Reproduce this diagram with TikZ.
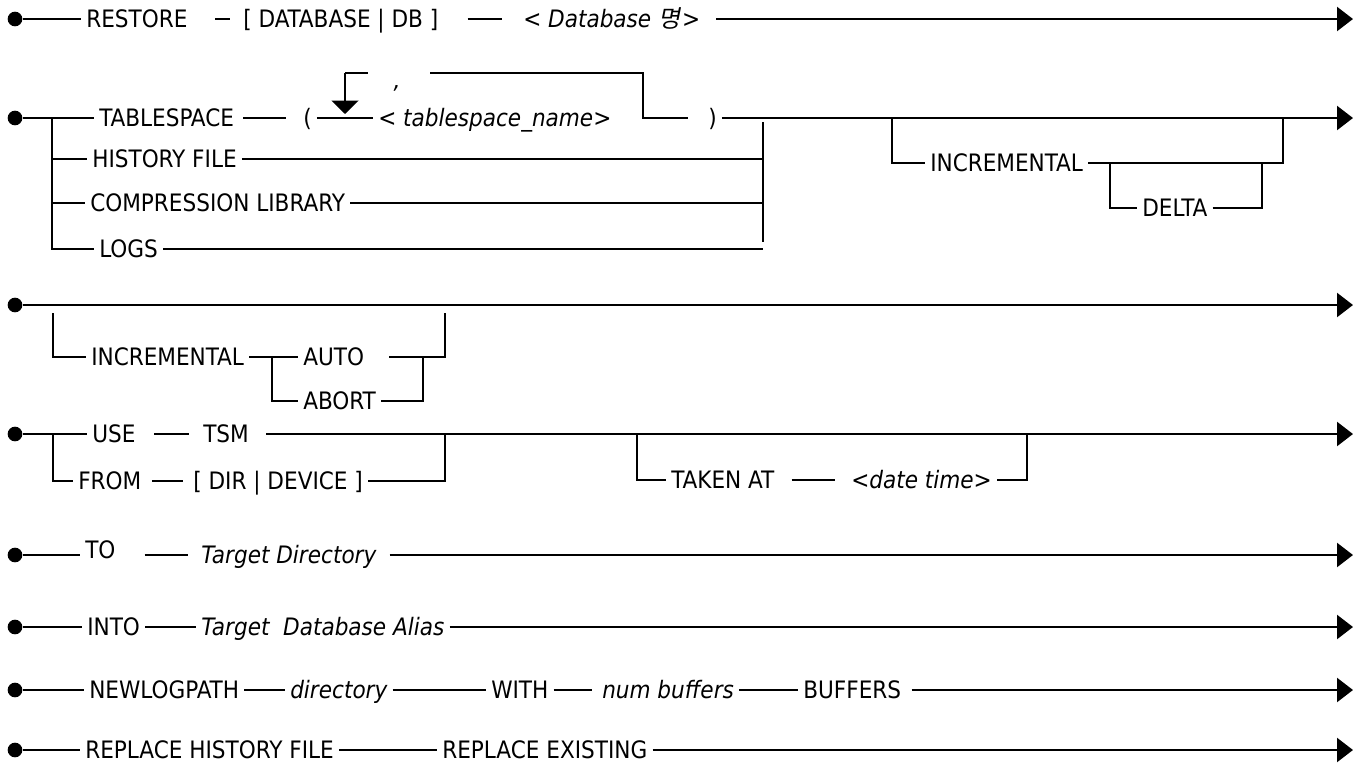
\documentclass[tikz,border=0pt]{standalone}
\usepackage{fontspec}
\setmainfont{DejaVu Sans Condensed}[ItalicFont={DejaVu Sans Condensed Oblique}]
\newfontfamily\krfont{Noto Sans CJK KR}[FakeSlant=0.2]
\usetikzlibrary{positioning, arrows.meta}

\begin{document}
\begin{tikzpicture}[
    x=0.75pt, y=-0.75pt,
    % -------------------------------------------------
    % Node styles
    % -------------------------------------------------
    startdot/.style={
        circle,
        fill=black,
        inner sep=0pt,
        minimum size=11pt
    },
    keyword/.style={
        rectangle,
        anchor=west,
        inner xsep=3.75pt,
        inner ysep=0pt,
        text height=13.1pt,
        text depth=0pt,
        font=\fontsize{18}{21}\selectfont
    },
    paramtext/.style={
        keyword,
        font=\fontsize{18}{21}\selectfont\itshape
    },
    sepmark/.style={
        inner sep=0pt,
        font=\fontsize{18}{21}\selectfont\itshape
    },
    % -------------------------------------------------
    % Connections
    % -------------------------------------------------
    rail/.style={
        line width=1.7pt,
        draw=black
    },
    railend/.style={
        rail,
        -{Triangle[length=12pt, width=18pt]}
    },
    looparrow/.style={
        rail,
        -{Triangle[length=10pt, width=20pt]}
    }
]

\useasboundingbox (0,0) rectangle (1365,769);

% =====================================================
% RESTORE DATABASE
% =====================================================

\node[startdot] (d1) at (15,19) {};
\node[keyword] (restore) at (81,19) {RESTORE};
\node[keyword] (dbkw) at (238,19) {[ DATABASE | DB ]};
\node[paramtext] (dbname) at (518,19) {< Database {\krfont 명}\kern1.5pt>};
\coordinate (e1) at (1353,19);

\draw[rail] (d1) -- (restore);
\draw[rail, shorten <=17pt, shorten >=6pt] (restore) -- (dbkw);
\draw[rail, shorten <=18pt, shorten >=12pt] (dbkw) -- (dbname);
\draw[railend, shorten <=8pt] (dbname) -- (e1);

% =====================================================
% TABLESPACE / HISTORY FILE / COMPRESSION LIBRARY / LOGS
% =====================================================

\node[startdot] (d2) at (15,118) {};
\coordinate (s2) at (52,118);
\coordinate (s2b) at (52,249);
\node[keyword] (tbs) at (94,118) {TABLESPACE};
\node[keyword] (lpar) at (298,118) {(};
\node[paramtext] (tsname) at (373,118) {< tablespace\_name>};
\node[keyword] (rpar) at (703,118) {)};
\coordinate (e2) at (1353,118);

\draw[rail] (d2) -- (tbs);
\draw[rail, shorten <=3pt, shorten >=9pt] (tbs) -- (lpar);
\draw[rail] (lpar) -- (tsname);
\draw[railend] (rpar) -- (e2);

% repeat loop
\coordinate (lpin) at (345,114);
\coordinate (lptl) at (345,73);
\coordinate (lptr) at (643,73);
\coordinate (lpout) at (643,118);
\node[sepmark] (sep) at (397,88) {,};

\draw[looparrow] (lptl) -- (lpin);
\draw[rail, shorten >=22pt] (lptl) -- (sep |- lptl);
\draw[rail, shorten <=25pt, shorten >=11pt] (sep |- lptl) -- (lptr) -- (lpout) -- (rpar);

% alternatives
\node[keyword] (hist) at (87,159) {HISTORY FILE};
\node[keyword] (comp) at (85,203) {COMPRESSION LIBRARY};
\node[keyword] (logs) at (94,249) {LOGS};
\coordinate (j2t) at (763,122);
\coordinate (j2b) at (763,242);

\draw[rail] (s2) -- (s2b) -- (logs);
\draw[rail] (s2 |- hist) -- (hist);
\draw[rail] (s2 |- comp) -- (comp);
\draw[rail] (j2t) -- (j2b);
\draw[rail] (hist) -- (hist -| j2t);
\draw[rail] (comp) -- (comp -| j2t);
\draw[rail] (logs) -- (logs -| j2t);

% INCREMENTAL [DELTA]
\coordinate (i2a) at (892,118);
\coordinate (i2b) at (1283,118);
\node[keyword] (incr) at (925,163) {INCREMENTAL};
\coordinate (dlt) at (1110,163);
\coordinate (dlr) at (1262,163);
\node[keyword] (delta) at (1137,208) {DELTA};

\draw[rail] (i2a) |- (incr);
\draw[rail] (incr) -| (i2b);
\draw[rail] (dlt) |- (delta);
\draw[rail] (delta) -| (dlr);

% =====================================================
% INCREMENTAL AUTO / ABORT
% =====================================================

\node[startdot] (d3) at (15,305) {};
\coordinate (e3) at (1353,305);
\coordinate (b3l) at (53,313);
\coordinate (b3r) at (445,313);
\node[keyword] (incr2) at (86,357) {INCREMENTAL};
\coordinate (aa) at (272,357);
\node[keyword] (auto) at (298,357) {AUTO};
\node[keyword] (abort) at (298,401) {ABORT};
\coordinate (ab) at (423,357);

\draw[railend] (d3) -- (e3);
\draw[rail] (b3l) |- (incr2);
\draw[rail] (incr2) -- (auto);
\draw[rail] (aa) |- (abort);
\draw[rail, shorten <=15pt] (auto) -- (ab) -| (b3r);
\draw[rail] (abort) -| (ab);

% =====================================================
% USE TSM / FROM ... TAKEN AT
% =====================================================

\node[startdot] (d4) at (15,434) {};
\coordinate (s4) at (53,434);
\node[keyword] (use) at (87,434) {USE};
\node[keyword] (tsm) at (198,434) {TSM};
\coordinate (e4) at (1353,434);
\node[keyword] (from) at (73,481) {FROM};
\node[keyword] (dirdev) at (188,481) {[ DIR | DEVICE ]};
\coordinate (j4) at (445,434);

\draw[rail] (d4) -- (use);
\draw[rail, shorten <=10pt, shorten >=7pt] (use) -- (tsm);
\draw[railend, shorten <=9pt] (tsm) -- (e4);
\draw[rail] (s4) |- (from);
\draw[rail, shorten <=4pt, shorten >=4pt] (from) -- (dirdev);
\draw[rail] (dirdev) -| (j4);

\coordinate (t4l) at (637,434);
\coordinate (t4r) at (1027,434);
\node[keyword] (taken) at (666,480) {TAKEN AT};
\node[paramtext] (dtime) at (846,480) {<date time>};

\draw[rail] (t4l) |- (taken);
\draw[rail, shorten <=9pt, shorten >=8pt] (taken) -- (dtime);
\draw[rail] (dtime) -| (t4r);

% =====================================================
% TO
% =====================================================

\node[startdot] (d5) at (15,555) {};
\node[keyword] (to) at (80,555) {\raisebox{3.75pt}{TO}};
\node[paramtext] (tdir) at (196,555) {Target Directory};
\coordinate (e5) at (1353,555);

\draw[rail] (d5) -- (to);
\draw[rail, shorten <=18pt, shorten >=6pt] (to) -- (tdir);
\draw[railend, shorten <=6pt] (tdir) -- (e5);

% =====================================================
% INTO
% =====================================================

\node[startdot] (d6) at (15,627) {};
\node[keyword] (into) at (82,627) {INTO};
\node[paramtext] (talias) at (196,627) {Target\ \ Database Alias};
\coordinate (e6) at (1353,627);

\draw[rail] (d6) -- (into);
\draw[rail] (into) -- (talias);
\draw[railend] (talias) -- (e6);

% =====================================================
% NEWLOGPATH
% =====================================================

\node[startdot] (d7) at (15,690) {};
\node[keyword] (nlp) at (84,690) {NEWLOGPATH};
\node[paramtext] (ldir) at (285,690) {directory};
\node[keyword] (with) at (486,690) {WITH};
\node[paramtext] (nbuf) at (597,690) {num buffers};
\node[keyword] (bufs) at (798,690) {BUFFERS};
\coordinate (e7) at (1353,690);

\draw[rail] (d7) -- (nlp);
\draw[rail] (nlp) -- (ldir);
\draw[rail] (ldir) -- (with);
\draw[rail, shorten >=4pt] (with) -- (nbuf);
\draw[rail] (nbuf) -- (bufs);
\draw[railend, shorten <=4pt] (bufs) -- (e7);

% =====================================================
% REPLACE
% =====================================================

\node[startdot] (d8) at (15,750) {};
\node[keyword] (rhf) at (80,750) {REPLACE HISTORY FILE};
\node[keyword] (rex) at (437,750) {REPLACE EXISTING};
\coordinate (e8) at (1353,750);

\draw[rail] (d8) -- (rhf);
\draw[rail] (rhf) -- (rex);
\draw[railend] (rex) -- (e8);

\end{tikzpicture}
\end{document}
